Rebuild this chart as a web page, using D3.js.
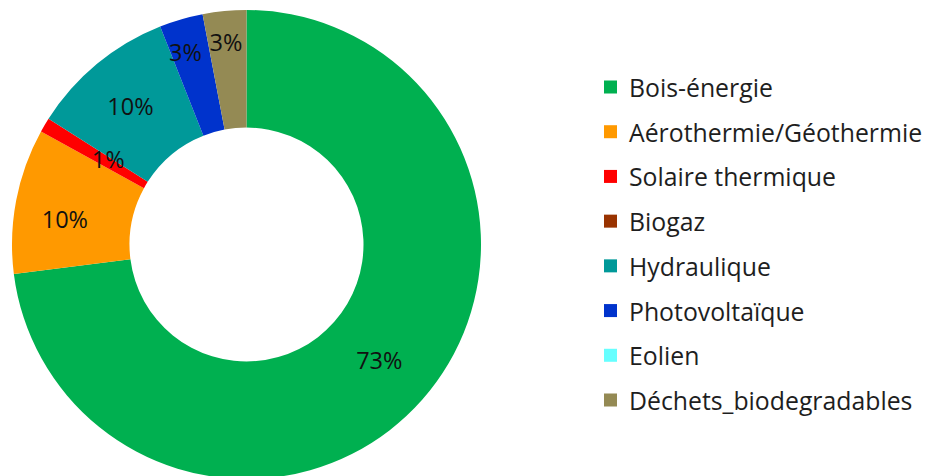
<!DOCTYPE html>
<html>
<head>
<meta charset="utf-8">
<script src="https://cdn.jsdelivr.net/npm/d3@7"></script>
<style>
  html, body { margin: 0; padding: 0; background: #ffffff; }
  svg { display: block; }
</style>
</head>
<body>
<svg id="chart" width="926" height="476"></svg>
<script>
// Renewable energy mix (share of production, %)
const categories = [
  "Bois-énergie",
  "Aérothermie/Géothermie",
  "Solaire thermique",
  "Biogaz",
  "Hydraulique",
  "Photovoltaïque",
  "Eolien",
  "Déchets_biodegradables"
];
const shares = [73, 10, 1, 0, 10, 3, 0, 3];
const sliceColors = ["#00b050", "#ff9900", "#ff0000", "#993300", "#009999", "#0033cc", "#66ffff", "#948a54"];

// Label tweaks (pixel offsets from the ring centroid) so small slices stay readable
const labelNudge = [[1, -1], [-9, 7], [13, 4], [0, 0], [-4, -3], [-12, -24], [0, 0], [-4, -28]];

const svg = d3.select("#chart");
const cx = 246.5, cy = 244.5;
const outerR = 234.5, innerR = 117;

const data = categories.map((name, i) => ({ name, value: shares[i], color: sliceColors[i], i }));

const pie = d3.pie().value(d => d.value).sort(null);
const arc = d3.arc().innerRadius(innerR).outerRadius(outerR);
const labelArc = d3.arc().innerRadius((innerR + outerR) / 2).outerRadius((innerR + outerR) / 2);

const g = svg.append("g").attr("transform", `translate(${cx},${cy})`);
const arcs = pie(data);

g.selectAll("path.slice")
  .data(arcs.filter(a => a.data.value > 0))
  .join("path")
  .attr("class", "slice")
  .attr("d", arc)
  .attr("fill", a => a.data.color);

g.selectAll("text.pct")
  .data(arcs.filter(a => a.data.value > 0))
  .join("text")
  .attr("class", "pct")
  .attr("x", a => labelArc.centroid(a)[0] + labelNudge[a.data.i][0])
  .attr("y", a => labelArc.centroid(a)[1] + labelNudge[a.data.i][1])
  .attr("text-anchor", "middle")
  .attr("dominant-baseline", "central")
  .attr("font-family", "'Open Sans', sans-serif")
  .attr("font-size", 23.5)
  .attr("fill", "#111111")
  .text(a => `${a.data.value}%`);

// Legend
const legendY = d3.scalePoint().domain(categories).range([87, 400]);
const legend = svg.append("g");
const rows = legend.selectAll("g.row")
  .data(data)
  .join("g")
  .attr("class", "row")
  .attr("transform", d => `translate(604,${legendY(d.name)})`);

rows.append("rect")
  .attr("x", 0).attr("y", -6.5)
  .attr("width", 13).attr("height", 13)
  .attr("fill", d => d.color);

rows.append("text")
  .attr("x", 25)
  .attr("y", 0)
  .attr("dominant-baseline", "central")
  .attr("font-family", "'Open Sans', sans-serif")
  .attr("font-size", 24.8)
  .attr("fill", "#1e1e1e")
  .text(d => d.name);
</script>
</body>
</html>
